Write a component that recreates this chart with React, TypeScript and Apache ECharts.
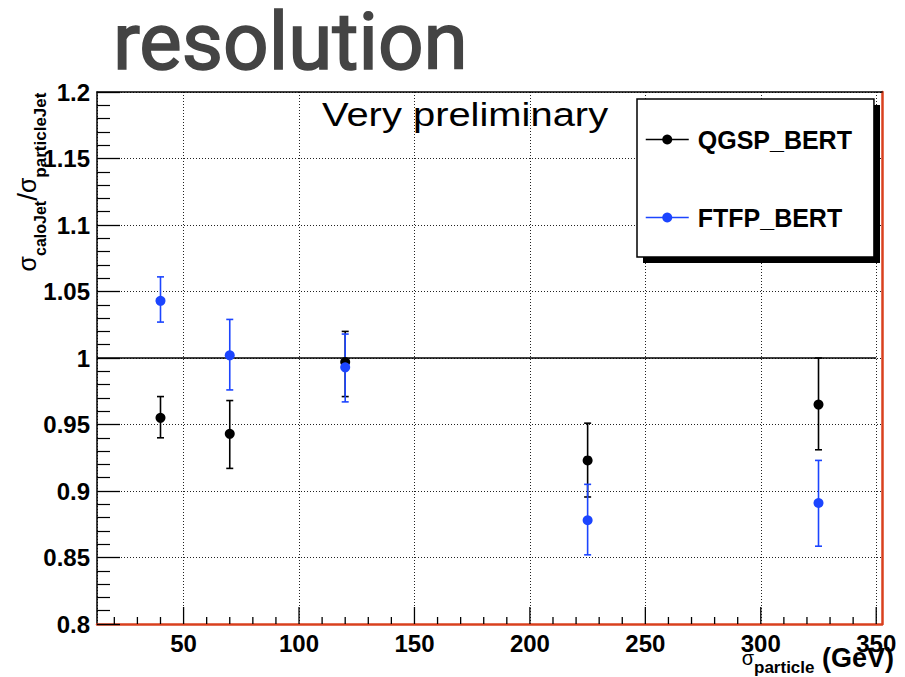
import React, { useEffect, useRef } from 'react';
import * as echarts from 'echarts';

// ---- data ----
const ENERGIES = [40, 70, 120, 225, 325];
const QGSP_Y = [0.955, 0.943, 0.997, 0.923, 0.965];
const QGSP_LO = [0.94, 0.917, 0.971, 0.8955, 0.931];
const QGSP_HI = [0.971, 0.968, 1.02, 0.951, 1.0];
const FTFP_Y = [1.043, 1.002, 0.993, 0.878, 0.891];
const FTFP_LO = [1.027, 0.976, 0.967, 0.852, 0.8585];
const FTFP_HI = [1.061, 1.029, 1.018, 0.905, 0.923];
const REF_X = [12.5, 350];
const REF_Y = 1;
const X_MIN = 12.5;
const X_MAX = 352.5;
const Y_MIN = 0.8;
const Y_MAX = 1.2;
const Y_STEP = 0.05;
const X_MAJOR_TICKS = [50, 100, 150, 200, 250, 300, 350];
const X_MINOR_TICKS = [20, 30, 40, 60, 70, 80, 90, 110, 120, 130, 140, 160, 170, 180, 190, 210, 220, 230, 240, 260, 270, 280, 290, 310, 320, 330, 340];
const SERIES_NAMES = ['QGSP_BERT', 'FTFP_BERT'];

const FF = "'Liberation Sans', Arial, Helvetica, sans-serif";
const BLACK = '#000000';
const BLUE = '#1c45ff';
const RED = '#d9401e';

function errorSeries(color: string, lo: number[], hi: number[]) {
  return {
    type: 'custom',
    silent: true,
    z: 3,
    data: ENERGIES.map((x, i) => [x, lo[i], hi[i]]),
    encode: { x: 0, y: [1, 2] },
    renderItem: (params: any, api: any) => {
      const x = api.value(0);
      const pLo = api.coord([x, api.value(1)]);
      const pHi = api.coord([x, api.value(2)]);
      const cap = 3.5;
      const st = { stroke: color, lineWidth: 1.6 };
      return {
        type: 'group',
        children: [
          { type: 'line', shape: { x1: pLo[0], y1: pLo[1], x2: pHi[0], y2: pHi[1] }, style: st },
          { type: 'line', shape: { x1: pLo[0] - cap, y1: pLo[1], x2: pLo[0] + cap, y2: pLo[1] }, style: st },
          { type: 'line', shape: { x1: pHi[0] - cap, y1: pHi[1], x2: pHi[0] + cap, y2: pHi[1] }, style: st },
        ],
      };
    },
  };
}

function xTickSeries(values: number[], len: number) {
  return {
    type: 'custom',
    silent: true,
    z: 5,
    data: values.map((v) => [v, Y_MIN]),
    encode: { x: 0, y: 1 },
    renderItem: (params: any, api: any) => {
      const p = api.coord([api.value(0), api.value(1)]);
      return {
        type: 'line',
        shape: { x1: p[0], y1: p[1], x2: p[0], y2: p[1] - len },
        style: { stroke: BLACK, lineWidth: 1.3 },
      };
    },
  };
}

function pointSeries(name: string, color: string, ys: number[]) {
  return {
    name,
    type: 'line',
    z: 3,
    data: ENERGIES.map((x, i) => [x, ys[i]]),
    symbol: 'circle',
    symbolSize: 10,
    showSymbol: true,
    lineStyle: { width: 0, opacity: 0 },
    itemStyle: { color },
    silent: true,
  };
}

const option: any = {
  animation: false,
  backgroundColor: '#ffffff',
  grid: { left: 97, top: 92, width: 785, height: 532, containLabel: false },
  xAxis: [
    {
      type: 'value',
      min: X_MIN,
      max: X_MAX,
      position: 'bottom',
      axisLine: { show: true, lineStyle: { color: RED, width: 2.5 } },
      axisTick: { show: false },
      axisLabel: {
        show: true,
        margin: 7,
        fontFamily: FF,
        fontWeight: 'bold',
        fontSize: 24,
        color: BLACK,
        formatter: (v: number) => (Math.abs(v % 50) < 1e-9 ? String(v) : ''),
      },
      splitLine: { show: true, lineStyle: { color: '#222', width: 1, type: [1, 2] } },
    },
    {
      type: 'value',
      min: X_MIN,
      max: X_MAX,
      position: 'top',
      axisLine: { show: true, lineStyle: { color: BLACK, width: 1.5 } },
      axisTick: { show: false },
      axisLabel: { show: false },
      splitLine: { show: false },
    },
  ],
  yAxis: [
    {
      type: 'value',
      min: Y_MIN,
      max: Y_MAX,
      interval: Y_STEP,
      position: 'left',
      axisLine: { show: true, lineStyle: { color: BLACK, width: 1.5 } },
      axisTick: { show: true, inside: true, length: 23, lineStyle: { color: BLACK, width: 1.3 } },
      minorTick: { show: true, splitNumber: 5, length: 13, lineStyle: { color: BLACK, width: 1.2 } },
      axisLabel: { margin: 7, fontFamily: FF, fontWeight: 'bold', fontSize: 24, color: BLACK },
      splitLine: { show: true, lineStyle: { color: '#222', width: 1, type: [1, 2] } },
    },
    {
      type: 'value',
      min: Y_MIN,
      max: Y_MAX,
      position: 'right',
      axisLine: { show: true, lineStyle: { color: RED, width: 2.5 } },
      axisTick: { show: false },
      axisLabel: { show: false },
      splitLine: { show: false },
    },
  ],
  legend: {
    data: SERIES_NAMES,
    orient: 'vertical',
    left: 637,
    top: 99,
    padding: [28, 22, 27, 8],
    itemGap: 53,
    itemWidth: 43,
    itemHeight: 12.5,
    backgroundColor: '#ffffff',
    borderColor: BLACK,
    borderWidth: 1.5,
    borderRadius: 0,
    selectedMode: false,
    z: 10,
    lineStyle: { width: 1.5, opacity: 1, type: 'solid' },
    textStyle: { fontFamily: FF, fontWeight: 'bold', fontSize: 25, color: BLACK, padding: [0, 0, 0, 4] },
  },
  graphic: [
    {
      type: 'rect',
      z: 9,
      silent: true,
      shape: { x: 643, y: 105, width: 237, height: 158 },
      style: { fill: BLACK },
    },
    {
      type: 'text',
      x: 113,
      y: 42,
      z: 20,
      silent: true,
      style: {
        text: 'resolution',
        fontFamily: 'Roboto, sans-serif',
        fontWeight: 'normal',
        fontSize: 80,
        fill: '#444444',
        stroke: '#444444',
        lineWidth: 1.6,
        align: 'left',
        verticalAlign: 'middle',
      },
    },
    {
      type: 'text',
      x: 322,
      y: 115,
      z: 20,
      scaleX: 1.21,
      silent: true,
      style: {
        text: 'Very preliminary',
        fontFamily: FF,
        fontSize: 33,
        fill: BLACK,
        align: 'left',
        verticalAlign: 'middle',
      },
    },
    {
      type: 'text',
      x: 27,
      y: 182,
      z: 20,
      rotation: Math.PI / 2,
      silent: true,
      style: {
        text: '{s|σ}{sb|caloJet}{sl|/}{s|σ}{sb2|particleJet}',
        align: 'center',
        verticalAlign: 'middle',
        fill: BLACK,
        rich: {
          s: { fontFamily: FF, fontSize: 25, fill: BLACK, verticalAlign: 'middle' },
          sl: { fontFamily: FF, fontSize: 28, fill: BLACK, verticalAlign: 'middle' },
          sb: { fontFamily: FF, fontSize: 16, fontWeight: 'bold', fill: BLACK, padding: [26, 0, 0, 0], verticalAlign: 'middle' },
          sb2: { fontFamily: FF, fontSize: 17, fontWeight: 'bold', fill: BLACK, padding: [26, 0, 0, 0], verticalAlign: 'middle' },
        },
      },
    },
    {
      type: 'text',
      x: 894,
      y: 658,
      z: 20,
      silent: true,
      style: {
        text: '{s|σ}{sb|particle}{g| (GeV)}',
        align: 'right',
        verticalAlign: 'middle',
        fill: BLACK,
        rich: {
          s: { fontFamily: FF, fontSize: 20, fill: BLACK, verticalAlign: 'middle' },
          sb: { fontFamily: FF, fontSize: 17, fontWeight: 'bold', fill: BLACK, padding: [19, 0, 0, 0], verticalAlign: 'middle' },
          g: { fontFamily: FF, fontSize: 27, fontWeight: 'bold', fill: BLACK, verticalAlign: 'middle' },
        },
      },
    },
  ],
  series: [
    {
      name: 'ref',
      type: 'line',
      z: 2,
      silent: true,
      data: REF_X.map((x) => [x, REF_Y]),
      symbol: 'none',
      lineStyle: { color: BLACK, width: 1.5 },
    },
    xTickSeries(X_MAJOR_TICKS, 17),
    xTickSeries(X_MINOR_TICKS, 7),
    errorSeries(BLACK, QGSP_LO, QGSP_HI),
    pointSeries(SERIES_NAMES[0], BLACK, QGSP_Y),
    errorSeries(BLUE, FTFP_LO, FTFP_HI),
    pointSeries(SERIES_NAMES[1], BLUE, FTFP_Y),
  ],
};

export default function App() {
  const ref = useRef<HTMLDivElement>(null);
  useEffect(() => {
    document.body.style.margin = '0';
    const chart = echarts.init(ref.current as HTMLDivElement, null, { renderer: 'svg' });
    chart.setOption(option);
    return () => chart.dispose();
  }, []);
  return <div ref={ref} style={{ width: 905, height: 677 }} />;
}
